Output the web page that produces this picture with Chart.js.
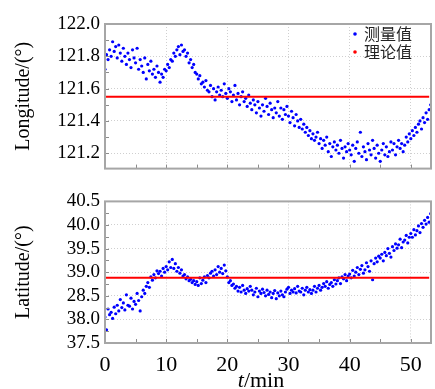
<!DOCTYPE html>
<html>
<head>
<meta charset="utf-8">
<script src="https://cdn.jsdelivr.net/npm/chart.js@4.4.1/dist/chart.umd.min.js"></script>
<style>
  body { margin: 0; background: #fff; }
  #wrap { position: relative; width: 435px; height: 389px; }
  canvas { position: absolute; left: 0; }
</style>
</head>
<body>
<div id="wrap">
  <canvas id="lonChart" width="435" height="185" style="top:0"></canvas>
  <canvas id="latChart" width="435" height="204" style="top:185px"></canvas>
</div>
<script>
// sample times (min)
const TIMES = [
  0, 0.25, 0.5, 0.75, 1, 1.25, 1.5, 1.75, 2, 2.25, 2.5, 2.75, 3, 3.25, 3.5, 3.75, 4, 4.25, 4.5, 4.75,
  5, 5.25, 5.5, 5.75, 6, 6.25, 6.5, 6.75, 7, 7.25, 7.5, 7.75, 8, 8.25, 8.5, 8.75, 9, 9.25, 9.5, 9.75,
  10, 10.25, 10.5, 10.75, 11, 11.25, 11.5, 11.75, 12, 12.25, 12.5, 12.75, 13, 13.25, 13.5, 13.75, 14, 14.25, 14.5, 14.75,
  15, 15.25, 15.5, 15.75, 16, 16.25, 16.5, 16.75, 17, 17.25, 17.5, 17.75, 18, 18.25, 18.5, 18.75, 19, 19.25, 19.5, 19.75,
  20, 20.25, 20.5, 20.75, 21, 21.25, 21.5, 21.75, 22, 22.25, 22.5, 22.75, 23, 23.25, 23.5, 23.75, 24, 24.25, 24.5, 24.75,
  25, 25.25, 25.5, 25.75, 26, 26.25, 26.5, 26.75, 27, 27.25, 27.5, 27.75, 28, 28.25, 28.5, 28.75, 29, 29.25, 29.5, 29.75,
  30, 30.25, 30.5, 30.75, 31, 31.25, 31.5, 31.75, 32, 32.25, 32.5, 32.75, 33, 33.25, 33.5, 33.75, 34, 34.25, 34.5, 34.75,
  35, 35.25, 35.5, 35.75, 36, 36.25, 36.5, 36.75, 37, 37.25, 37.5, 37.75, 38, 38.25, 38.5, 38.75, 39, 39.25, 39.5, 39.75,
  40, 40.25, 40.5, 40.75, 41, 41.25, 41.5, 41.75, 42, 42.25, 42.5, 42.75, 43, 43.25, 43.5, 43.75, 44, 44.25, 44.5, 44.75,
  45, 45.25, 45.5, 45.75, 46, 46.25, 46.5, 46.75, 47, 47.25, 47.5, 47.75, 48, 48.25, 48.5, 48.75, 49, 49.25, 49.5, 49.75,
  50, 50.25, 50.5, 50.75, 51, 51.25, 51.5, 51.75, 52, 52.25, 52.5, 52.75, 53, 53.25
];

// measured longitude (deg)
const LON_MEASURED = [
  121.72, 121.81, 121.78, 121.84, 121.80, 121.89, 121.83, 121.86, 121.79, 121.87, 121.82, 121.77, 121.85, 121.80, 121.75, 121.82, 121.78, 121.73, 121.84, 121.79,
  121.76, 121.85, 121.72, 121.78, 121.74, 121.70, 121.79, 121.66, 121.75, 121.71, 121.77, 121.69, 121.72, 121.67, 121.74, 121.70, 121.64, 121.69, 121.67, 121.72,
  121.71, 121.75, 121.73, 121.78, 121.77, 121.82, 121.80, 121.84, 121.86, 121.81, 121.87, 121.83, 121.84, 121.80, 121.82, 121.76, 121.78, 121.73, 121.75, 121.70,
  121.69, 121.66, 121.68, 121.63, 121.64, 121.61, 121.65, 121.59, 121.58, 121.62, 121.55, 121.60, 121.53, 121.58, 121.61, 121.56, 121.59, 121.55, 121.63, 121.57,
  121.54, 121.60, 121.58, 121.52, 121.56, 121.62, 121.53, 121.57, 121.50, 121.55, 121.58, 121.52, 121.54, 121.49, 121.56, 121.51, 121.47, 121.53, 121.50, 121.45,
  121.52, 121.48, 121.43, 121.50, 121.46, 121.54, 121.49, 121.44, 121.51, 121.47, 121.42, 121.48, 121.45, 121.52, 121.43, 121.48, 121.41, 121.47, 121.44, 121.49,
  121.43, 121.39, 121.46, 121.42, 121.37, 121.44, 121.40, 121.36, 121.41, 121.35, 121.38, 121.33, 121.36, 121.31, 121.34, 121.29, 121.32, 121.28, 121.30, 121.33,
  121.26, 121.29, 121.23, 121.28, 121.25, 121.30, 121.21, 121.26, 121.18, 121.24, 121.27, 121.22, 121.25, 121.20, 121.28, 121.23, 121.17, 121.24, 121.21, 121.26,
  121.22, 121.19, 121.25, 121.15, 121.23, 121.27, 121.20, 121.33, 121.18, 121.24, 121.21, 121.16, 121.26, 121.22, 121.19, 121.28, 121.23, 121.17, 121.25, 121.20,
  121.15, 121.22, 121.26, 121.19, 121.24, 121.18, 121.21, 121.27, 121.22, 121.26, 121.19, 121.24, 121.28, 121.23, 121.26, 121.21, 121.25, 121.30, 121.27, 121.32,
  121.29, 121.34, 121.31, 121.36, 121.33, 121.38, 121.40, 121.35, 121.42, 121.39, 121.45, 121.41, 121.47, 121.50
];

// measured latitude (deg)
const LAT_MEASURED = [
  38.05, 37.78, 38.22, 38.10, 38.15, 38.02, 38.26, 38.12, 38.30, 38.18, 38.42, 38.25, 38.35, 38.20, 38.52, 38.30, 38.28, 38.45, 38.22, 38.38,
  38.32, 38.55, 38.40, 38.18, 38.48, 38.62, 38.55, 38.70, 38.78, 38.68, 38.90, 38.83, 38.95, 38.88, 39.03, 38.97, 39.02, 38.92, 39.08, 39.00,
  39.12, 39.05, 39.22, 39.10, 39.27, 39.08, 39.18, 39.02, 39.10, 38.98, 39.05, 38.92, 38.95, 38.86, 38.90, 38.82, 38.85, 38.78, 38.82, 38.74,
  38.80, 38.72, 38.88, 38.76, 38.83, 38.90, 38.78, 38.93, 38.88, 38.98, 39.02, 38.92, 39.05, 38.95, 39.12, 39.00, 39.08, 38.97, 39.15, 39.03,
  38.90, 38.78, 38.82, 38.72, 38.75, 38.66, 38.70, 38.60, 38.68, 38.58, 38.72, 38.62, 38.55, 38.65, 38.60, 38.70, 38.62, 38.52, 38.58, 38.66,
  38.48, 38.60, 38.55, 38.64, 38.57, 38.50, 38.62, 38.53, 38.58, 38.46, 38.55, 38.61, 38.44, 38.56, 38.50, 38.60, 38.52, 38.48, 38.58, 38.64,
  38.68, 38.55, 38.62, 38.58, 38.65, 38.56, 38.70, 38.60, 38.58, 38.66, 38.52, 38.62, 38.68, 38.58, 38.63, 38.55, 38.62, 38.70, 38.58, 38.66,
  38.72, 38.62, 38.68, 38.76, 38.70, 38.80, 38.66, 38.74, 38.78, 38.70, 38.84, 38.75, 38.82, 38.88, 38.76, 38.90, 38.86, 38.95, 38.82, 38.92,
  38.96, 38.88, 39.04, 38.92, 39.00, 39.10, 38.95, 39.06, 39.14, 38.98, 39.05, 39.20, 39.12, 39.02, 39.24, 38.84, 39.18, 39.30, 39.22, 39.34,
  39.30, 39.38, 39.24, 39.42, 39.35, 39.50, 39.40, 39.32, 39.54, 39.46, 39.60, 39.51, 39.58, 39.70, 39.52, 39.64, 39.68, 39.78, 39.62, 39.74,
  39.82, 39.74, 39.90, 39.79, 39.88, 39.98, 39.84, 40.03, 39.95, 40.10, 40.02, 40.16, 40.06, 40.24
];

const LON_THEORY = 121.55;
const LAT_THEORY = 38.88;
const SERIES_LABELS = ['测量值', '理论值'];

const X_RANGE = [0, 53.3];
const X_TICKS = [0, 10, 20, 30, 40, 50];
const X_MINOR = [5, 15, 25, 35, 45];
const LON_RANGE = [121.105, 122.0];
const LON_TICKS = [121.2, 121.4, 121.6, 121.8, 122.0];
const LON_MINOR = [121.3, 121.5, 121.7, 121.9];
const LAT_RANGE = [37.5, 40.5];
const LAT_TICKS = [37.5, 38.0, 38.5, 39.0, 39.5, 40.0, 40.5];
const LAT_TICK_LABELS = ['37.5', '38.0', '28.5', '39.0', '39.5', '40.0', '40.5'];
const LAT_MINOR = [37.75, 38.25, 38.75, 39.25, 39.75, 40.25];

const BLUE = '#0000ff';
const RED = '#ff0000';
const SERIF = 'Liberation Serif';

// frame and inward tick marks
const framePlugin = {
  id: 'frame',
  afterDatasetsDraw(chart, args, opts) {
    const { ctx, chartArea: a, scales } = chart;
    ctx.save();
    ctx.strokeStyle = '#8c8c8c';
    ctx.lineWidth = 1;
    const xs = X_TICKS.concat(X_MINOR);
    xs.forEach(v => {
      const px = Math.round(scales.x.getPixelForValue(v)) + 0.5;
      ctx.beginPath();
      ctx.moveTo(px, a.bottom);
      ctx.lineTo(px, a.bottom - 4);
      ctx.stroke();
    });
    opts.yTicks.concat(opts.yMinor).forEach(v => {
      const py = Math.round(scales.y.getPixelForValue(v)) + 0.5;
      ctx.beginPath();
      ctx.moveTo(a.left, py);
      ctx.lineTo(a.left + 4, py);
      ctx.stroke();
    });
    ctx.strokeStyle = '#a6a6a6';
    ctx.lineWidth = 2;
    ctx.strokeRect(a.left, a.top, a.right - a.left, a.bottom - a.top);
    ctx.restore();
  }
};

// legend inside top-right corner
const legendPlugin = {
  id: 'innerLegend',
  afterDraw(chart, args, opts) {
    if (!opts.show) return;
    const { ctx, chartArea: a } = chart;
    const colors = [BLUE, RED];
    ctx.save();
    ctx.font = '16px "Noto Sans CJK SC"';
    ctx.textBaseline = 'middle';
    SERIES_LABELS.forEach((label, i) => {
      const y = a.top + 10 + i * 18;
      ctx.fillStyle = colors[i];
      ctx.beginPath();
      ctx.arc(a.right - 76, y, 1.8, 0, Math.PI * 2);
      ctx.fill();
      ctx.fillStyle = '#222';
      ctx.fillText(label, a.right - 67, y);
    });
    ctx.restore();
  }
};

// x title with italic t
const xTitlePlugin = {
  id: 'xTitle',
  afterDraw(chart, args, opts) {
    if (!opts.show) return;
    const { ctx, chartArea: a } = chart;
    ctx.save();
    ctx.fillStyle = '#000';
    ctx.textBaseline = 'middle';
    const italic = 'italic 22px "' + SERIF + '"';
    const normal = '22px "' + SERIF + '"';
    ctx.font = italic;
    const w1 = ctx.measureText('t').width;
    ctx.font = normal;
    const w2 = ctx.measureText('/min').width;
    const cx = (a.left + a.right) / 2 - 7;
    const x0 = cx - (w1 + w2) / 2;
    const y = a.bottom + 38;
    ctx.font = italic;
    ctx.fillText('t', x0, y);
    ctx.font = normal;
    ctx.fillText('/min', x0 + w1, y);
    ctx.restore();
  }
};

function makeChart(id, values, theory, yRange, yTicks, yMinor, yTitle, tickLabel, isBottom) {
  return new Chart(id, {
    type: 'line',
    data: {
      labels: TIMES,
      datasets: [{
        label: SERIES_LABELS[0],
        data: values,
        showLine: false,
        pointRadius: 1.6,
        pointBorderWidth: 0,
        pointBackgroundColor: BLUE,
        borderColor: BLUE,
        order: 1
      }, {
        label: SERIES_LABELS[1],
        data: [{ x: X_RANGE[0], y: theory }, { x: X_RANGE[1] - 0.3, y: theory }],
        borderColor: RED,
        borderWidth: 2,
        pointRadius: 0,
        order: 0
      }]
    },
    options: {
      responsive: false,
      animation: false,
      events: [],
      layout: { padding: { top: isBottom ? 6 : 24, right: 1, left: 0, bottom: 0 } },
      scales: {
        x: {
          type: 'linear',
          min: X_RANGE[0],
          max: X_RANGE[1],
          afterBuildTicks: s => { s.ticks = X_TICKS.map(v => ({ value: v })); },
          afterFit: s => { s.height = isBottom ? 46 : 8; },
          grid: { color: '#cfcfcf', lineWidth: 1, drawTicks: false },
          border: { display: false, dash: [1, 2] },
          ticks: {
            display: isBottom,
            autoSkip: false,
            padding: 9,
            maxRotation: 0,
            color: '#000',
            font: { family: SERIF, size: 22 },
            callback: v => String(v)
          }
        },
        y: {
          min: yRange[0],
          max: yRange[1],
          afterBuildTicks: s => { s.ticks = yTicks.map(v => ({ value: v })); },
          afterFit: s => { s.width = 105; },
          grid: { color: '#cfcfcf', lineWidth: 1, drawTicks: false },
          border: { display: false, dash: [1, 2] },
          ticks: {
            autoSkip: false,
            padding: 5,
            color: '#000',
            font: { family: SERIF, size: 19 },
            callback: tickLabel
          },
          title: {
            display: true,
            text: yTitle,
            color: '#000',
            font: { family: SERIF, size: 20 },
            padding: { top: 12, bottom: 0 }
          }
        }
      },
      plugins: {
        legend: { display: false },
        tooltip: { enabled: false },
        frame: { yTicks: yTicks, yMinor: yMinor },
        innerLegend: { show: !isBottom },
        xTitle: { show: isBottom }
      }
    },
    plugins: [framePlugin, legendPlugin, xTitlePlugin]
  });
}

const lonChart = makeChart('lonChart', LON_MEASURED, LON_THEORY, LON_RANGE, LON_TICKS, LON_MINOR,
  'Longitude/(°)', v => v.toFixed(1), false);
const latChart = makeChart('latChart', LAT_MEASURED, LAT_THEORY, LAT_RANGE, LAT_TICKS, LAT_MINOR,
  'Latitude/(°)', (v, i) => LAT_TICK_LABELS[i], true);
</script>
</body>
</html>
